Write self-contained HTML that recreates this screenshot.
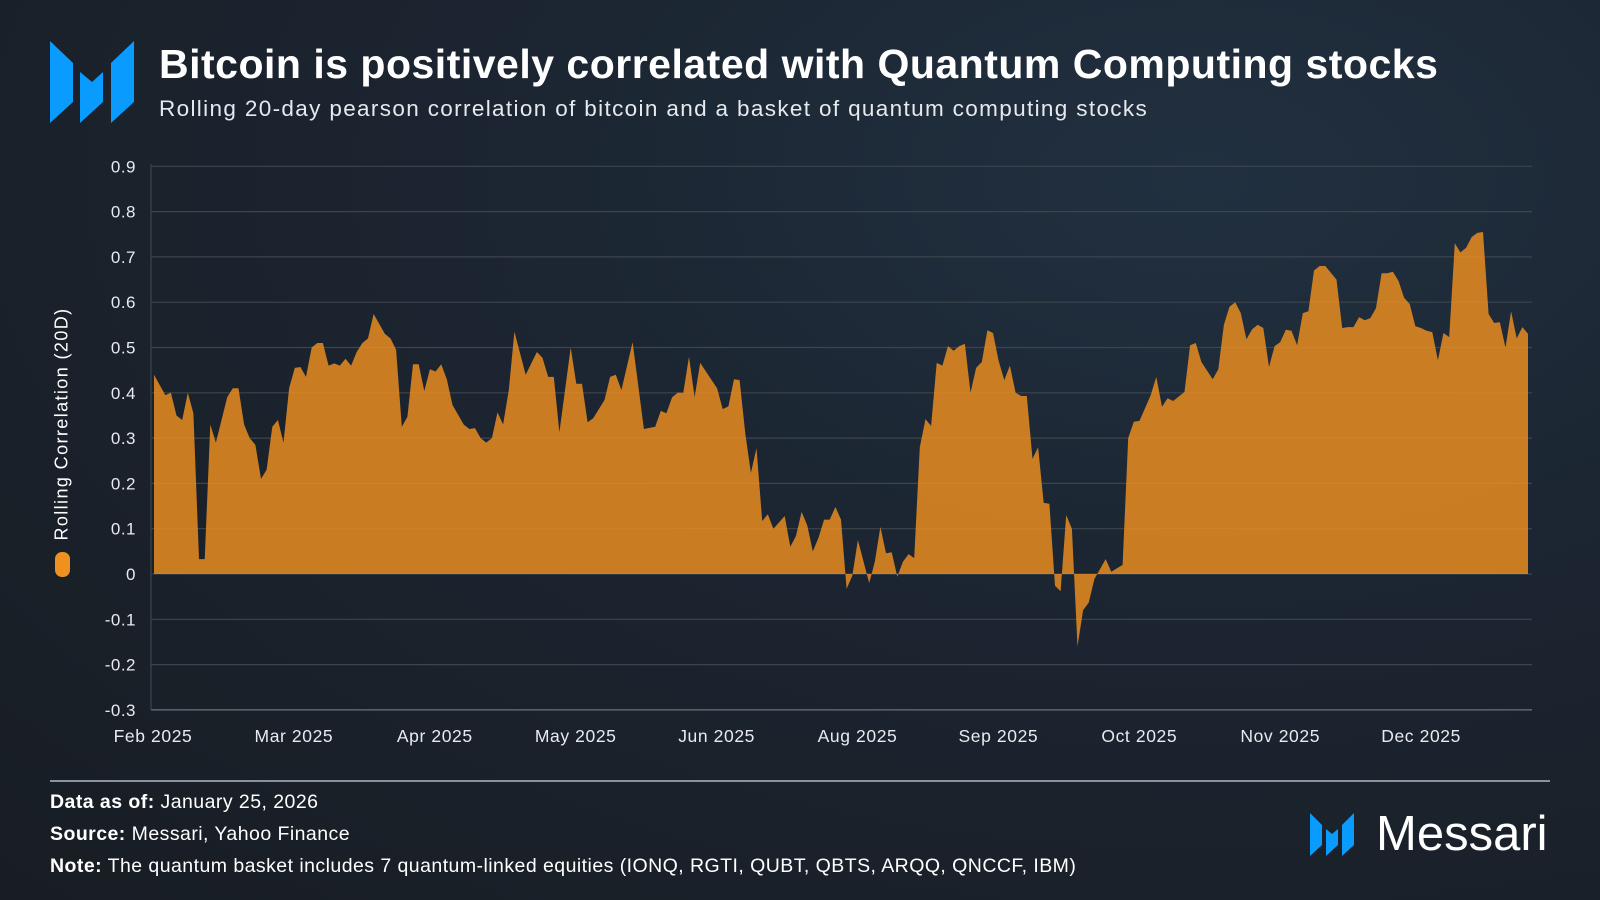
<!DOCTYPE html>
<html><head><meta charset="utf-8">
<style>
html,body{margin:0;padding:0;}
body{width:1600px;height:900px;overflow:hidden;background:radial-gradient(ellipse at 75% 20%,#213040 0%,#1b2430 45%,#181d23 100%);font-family:"Liberation Sans",sans-serif;color:#fff;position:relative;}
.t{position:absolute;white-space:nowrap;}
</style></head>
<body>
<svg style="position:absolute;left:0;top:0" width="150" height="140">
<polygon points="50,41 73,63 73,102 50,123" fill="#0a9bff"/>
<polygon points="80,72 92,82 103,72 103,102 80,123" fill="#0a9bff"/>
<polygon points="111,63 134,41 134,102 111,123" fill="#0a9bff"/>
</svg>
<div class="t" style="left:159px;top:41px;font-size:41px;font-weight:bold;letter-spacing:0.5px;">Bitcoin is positively correlated with Quantum Computing stocks</div>
<div class="t" style="left:159px;top:96px;font-size:22.5px;color:#e6e9ee;letter-spacing:1.35px;">Rolling 20-day pearson correlation of bitcoin and a basket of quantum computing stocks</div>

<svg id="chart" style="position:absolute;left:0;top:0" width="1600" height="780"></svg>

<div class="t" style="left:62px;top:424px;font-size:18px;letter-spacing:1.4px;transform:translate(-50%,-50%) rotate(-90deg);">Rolling Correlation (20D)</div>
<div style="position:absolute;left:55px;top:552px;width:15px;height:25px;border-radius:7px;background:#f0901e;"></div>

<div style="position:absolute;left:50px;top:780px;width:1500px;height:2px;background:#8a929c;"></div>
<div class="t" style="left:50px;top:791px;font-size:19.5px;letter-spacing:0.45px;"><b>Data as of:</b> January 25, 2026</div>
<div class="t" style="left:50px;top:823px;font-size:19.5px;letter-spacing:0.45px;"><b>Source:</b> Messari, Yahoo Finance</div>
<div class="t" style="left:50px;top:855px;font-size:19.5px;letter-spacing:0.45px;"><b>Note:</b> The quantum basket includes 7 quantum-linked equities (IONQ, RGTI, QUBT, QBTS, ARQQ, QNCCF, IBM)</div>
<svg style="position:absolute;left:1305px;top:810px" width="60" height="50">
<polygon points="5,3 17,15 17,35 5,46" fill="#0a9bff"/>
<polygon points="21,19 27,24 33,19 33,35 21,46" fill="#0a9bff"/>
<polygon points="37,15 49,3 49,35 37,46" fill="#0a9bff"/>
</svg>
<div class="t" style="left:1376px;top:806px;font-size:49px;letter-spacing:0px;">Messari</div>

<script>
const days=[0,2,3,4,5,6,7,8,9,10,11,13,14,15,16,17,18,19,20,21,22,23,24,25,26,27,28,29,30,31,32,33,34,35,36,37,38,39,41,42,43,44,45,46,47,48,49,50,51,52,53,55,56,57,58,59,60,61,62,63,64,66,68,69,70,71,72,74,75,76,77,78,80,81,82,83,85,87,89,90,91,92,93,94,95,96,97,100,101,102,103,104,105,106,107,108,109,110,112,113,114,115,116,117,118,119,120,121,122,123,124,125,127,128,129,130,131,132,133,134,135,136,137,138,139,140,141,142,143,144,145,146,147,148,149,150,151,152,153,154,155,156,157,158,159,160,161,162,163,164,165,166,167,169,170,172,173,174,175,177,178,179,180,181,183,184,185,186,188,189,190,191,192,193,194,195,196,197,198,199,200,201,202,203,204,205,206,207,208,210,211,212,213,214,215,216,217,218,219,220,221,222,223,224,225,226,227,228,229,230,231,232,233,234,235,236,237,238,239,240,241,242,243,244];
const values=[0.44,0.395,0.40,0.35,0.34,0.40,0.355,0.033,0.033,0.33,0.29,0.39,0.41,0.41,0.33,0.30,0.285,0.21,0.23,0.325,0.34,0.29,0.41,0.455,0.457,0.435,0.50,0.51,0.51,0.46,0.465,0.46,0.475,0.46,0.49,0.51,0.52,0.574,0.53,0.52,0.495,0.325,0.347,0.463,0.463,0.404,0.452,0.447,0.463,0.43,0.373,0.33,0.32,0.322,0.30,0.29,0.30,0.357,0.33,0.406,0.535,0.44,0.49,0.477,0.435,0.435,0.313,0.50,0.42,0.42,0.335,0.344,0.384,0.435,0.44,0.406,0.512,0.32,0.325,0.36,0.355,0.39,0.40,0.40,0.48,0.39,0.466,0.41,0.364,0.37,0.43,0.428,0.31,0.223,0.278,0.117,0.132,0.10,0.128,0.06,0.084,0.137,0.108,0.05,0.08,0.12,0.12,0.148,0.12,-0.033,-0.004,0.075,-0.02,0.027,0.104,0.046,0.048,-0.006,0.027,0.044,0.035,0.28,0.342,0.327,0.466,0.46,0.503,0.493,0.503,0.508,0.40,0.455,0.468,0.538,0.532,0.47,0.428,0.46,0.40,0.393,0.393,0.254,0.28,0.157,0.155,-0.026,-0.038,0.13,0.10,-0.16,-0.08,-0.063,-0.011,0.033,0.005,0.02,0.30,0.336,0.338,0.395,0.435,0.369,0.388,0.382,0.402,0.505,0.51,0.468,0.43,0.452,0.55,0.59,0.60,0.576,0.518,0.54,0.55,0.543,0.457,0.503,0.512,0.539,0.537,0.505,0.576,0.58,0.67,0.68,0.68,0.65,0.543,0.545,0.545,0.567,0.56,0.565,0.587,0.664,0.664,0.667,0.647,0.61,0.596,0.547,0.543,0.537,0.534,0.472,0.532,0.523,0.73,0.71,0.72,0.744,0.753,0.755,0.574,0.554,0.556,0.50,0.58,0.52,0.545,0.53];
const yTicks=[0.9,0.8,0.7,0.6,0.5,0.4,0.3,0.2,0.1,0,-0.1,-0.2,-0.3];
const yTickLabels=["0.9","0.8","0.7","0.6","0.5","0.4","0.3","0.2","0.1","0","-0.1","-0.2","-0.3"];
const monthLabels=["Feb 2025","Mar 2025","Apr 2025","May 2025","Jun 2025","Aug 2025","Sep 2025","Oct 2025","Nov 2025","Dec 2025"];

const NS="http://www.w3.org/2000/svg";
const svg=document.getElementById('chart');
const X0=154,X1=1528,DMAX=244;
const Y0=574,PER=453;
const xs=d=>X0+d*(X1-X0)/DMAX;
const ys=v=>Y0-v*PER;
function mk(tag,attrs){const e=document.createElementNS(NS,tag);for(const k in attrs)e.setAttribute(k,attrs[k]);svg.appendChild(e);return e;}

yTicks.forEach((t,i)=>{
  const l=mk('line',{x1:151,x2:1532,y1:ys(t),y2:ys(t),stroke:i===yTicks.length-1?'#6b737d':'#3c444e','stroke-width':1.2});
  
  
  const tx=mk('text',{x:136,y:ys(t)+6,'text-anchor':'end','font-size':17,fill:'#e8ebef','font-family':'Liberation Sans, sans-serif','letter-spacing':0.5});
  tx.textContent=yTickLabels[i];
  
  
});
const ax=mk('line',{x1:151,x2:151,y1:ys(0.9)-2,y2:ys(-0.3),stroke:'#3c444e','stroke-width':1.2});



let d='M'+xs(days[0])+','+ys(0);
days.forEach((dd,i)=>{d+=' L'+xs(dd).toFixed(1)+','+ys(values[i]).toFixed(1);});
d+=' L'+xs(days[days.length-1])+','+ys(0)+' Z';
const area=mk('path',{d:d,fill:'#f0901e','fill-opacity':0.82});



monthLabels.forEach((m,i)=>{
  const tx=mk('text',{x:153+i*140.9,y:742,'text-anchor':'middle','font-size':17.5,fill:'#e8ebef','font-family':'Liberation Sans, sans-serif','letter-spacing':0.6});
  tx.textContent=m;
  
  
});
</script>
</body></html>
